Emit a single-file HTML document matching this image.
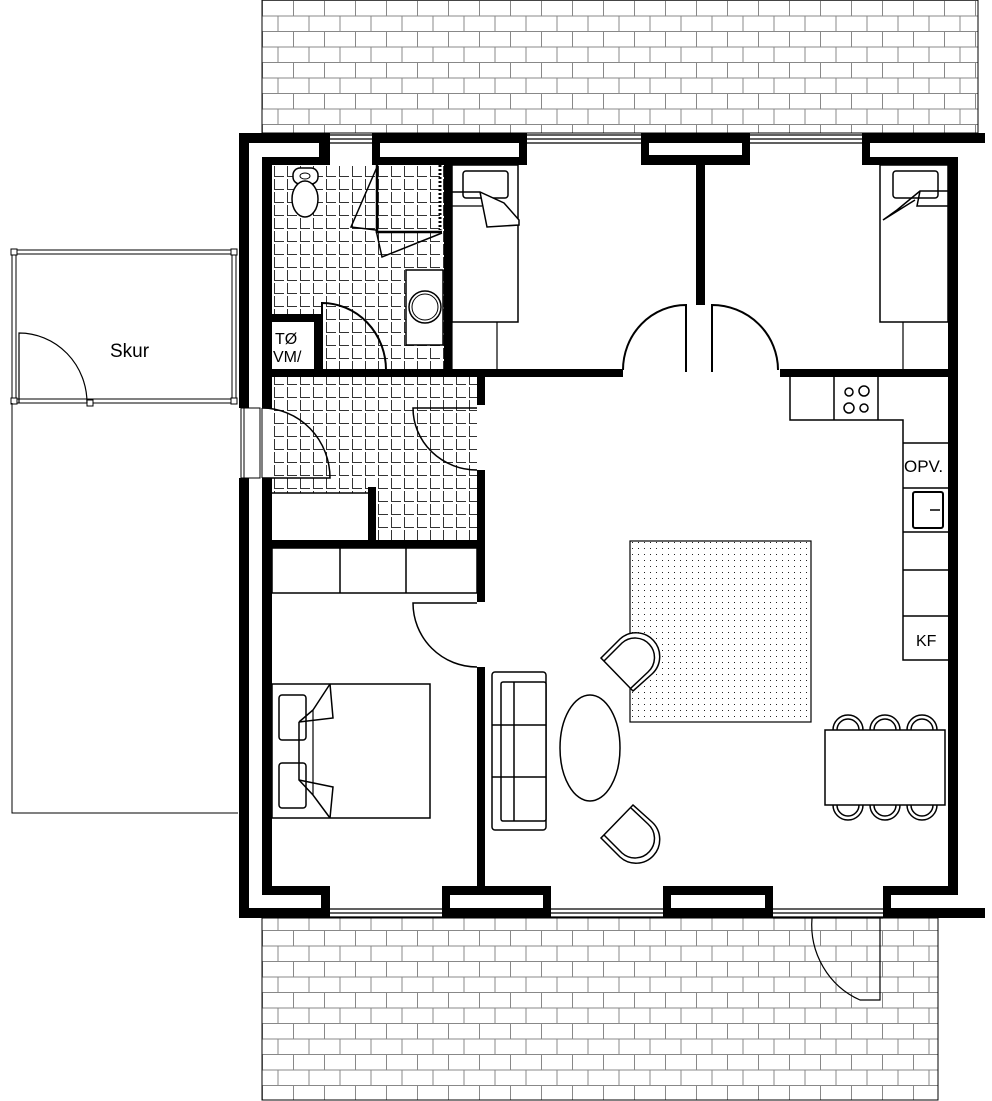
<!DOCTYPE html>
<html><head><meta charset="utf-8"><style>
html,body{margin:0;padding:0;background:#fff}
svg{display:block}
text{font-family:"Liberation Sans",sans-serif;fill:#000}
</style></head><body>
<svg width="992" height="1101" viewBox="0 0 992 1101" xmlns="http://www.w3.org/2000/svg">
<defs>
<pattern id="brick" width="62" height="31" patternUnits="userSpaceOnUse" x="262" y="0">
<path d="M0 0.5H62M0 16H62M0.5 0V16M31.5 0V16M16 16V31M47 16V31" stroke="#888" stroke-width="1" fill="none"/>
</pattern>
<pattern id="tile" width="13" height="13" patternUnits="userSpaceOnUse" x="272" y="165">
<path d="M2.5 1V11.5H12" stroke="#333" stroke-width="1" fill="none"/>
</pattern>
<pattern id="dots" width="6" height="6" patternUnits="userSpaceOnUse">
<rect x="2" y="2" width="1" height="1" fill="#222"/>
</pattern>
</defs>

<!-- terraces -->
<rect x="262" y="0" width="716" height="133" fill="url(#brick)" stroke="#000" stroke-width="1"/>
<rect x="262" y="918" width="676" height="182" fill="url(#brick)" stroke="#000" stroke-width="1"/>

<!-- shed -->
<rect x="12" y="250" width="224" height="153" fill="#fff" stroke="#000" stroke-width="1"/>
<rect x="16" y="254" width="216" height="145" fill="none" stroke="#000" stroke-width="1"/>
<rect x="11" y="249" width="6" height="6" fill="#fff" stroke="#000"/>
<rect x="231" y="249" width="6" height="6" fill="#fff" stroke="#000"/>
<rect x="11" y="398" width="6" height="6" fill="#fff" stroke="#000"/>
<rect x="231" y="398" width="6" height="6" fill="#fff" stroke="#000"/>
<rect x="87" y="400" width="6" height="6" fill="#fff" stroke="#000"/>
<path d="M19 403V333A68 70 0 0 1 87 403" fill="none" stroke="#000" stroke-width="1.2"/>
<text x="110" y="357" font-size="19">Skur</text>
<path d="M12 403V813H238" fill="none" stroke="#000" stroke-width="1"/>

<!-- floor tiles -->
<rect x="272" y="165" width="173" height="205" fill="url(#tile)"/>
<rect x="272" y="315" width="48" height="55" fill="#fff"/>
<rect x="272" y="377" width="205" height="116" fill="url(#tile)"/>
<rect x="376" y="493" width="101" height="47" fill="url(#tile)"/>

<!-- outer walls -->
<g fill="#000">
<rect x="239" y="133" width="10" height="785"/>
<rect x="262" y="157" width="10" height="738"/>
<rect x="239" y="133" width="91" height="10"/>
<rect x="262" y="157" width="68" height="8"/>
<rect x="319" y="143" width="11" height="22"/>
<rect x="372" y="133" width="155" height="10"/>
<rect x="372" y="157" width="155" height="8"/>
<rect x="372" y="143" width="8" height="14"/><rect x="519" y="143" width="8" height="14"/>
<rect x="641" y="133" width="109" height="10"/>
<rect x="641" y="155" width="109" height="10"/>
<rect x="641" y="143" width="8" height="14"/><rect x="742" y="143" width="8" height="14"/>
<rect x="862" y="133" width="123" height="10"/>
<rect x="862" y="157" width="96" height="8"/>
<rect x="862" y="143" width="8" height="14"/>
<rect x="948" y="157" width="10" height="738"/>
<rect x="239" y="908" width="91" height="10"/>
<rect x="262" y="886" width="68" height="9"/>
<rect x="321" y="886" width="9" height="22"/>
<rect x="442" y="908" width="109" height="10"/>
<rect x="442" y="886" width="109" height="9"/>
<rect x="442" y="886" width="8" height="22"/><rect x="543" y="886" width="8" height="22"/>
<rect x="663" y="908" width="110" height="10"/>
<rect x="663" y="886" width="110" height="9"/>
<rect x="663" y="886" width="8" height="22"/><rect x="765" y="886" width="8" height="22"/>
<rect x="883" y="908" width="102" height="10"/>
<rect x="883" y="886" width="75" height="9"/>
<rect x="883" y="886" width="8" height="22"/>
</g>
<!-- windows -->
<g stroke="#000" stroke-width="1.3" fill="none">
<path d="M330 135H372M330 139H372M330 143H372"/>
<path d="M527 135H641M527 139H641M527 143H641"/>
<path d="M750 135H862M750 139H862M750 143H862"/>
<path d="M330 909H442M330 913H442M330 917H442"/>
<path d="M551 909H663M551 913H663M551 917H663"/>
<path d="M773 909H883M773 913H883M773 917H883"/>
</g>

<!-- entrance -->
<rect x="239" y="408" width="33" height="70" fill="#fff"/>
<rect x="241" y="408" width="19" height="70" fill="#fff" stroke="#000" stroke-width="1"/>
<path d="M244 408V478M262 408V478" stroke="#000" stroke-width="1"/>
<path d="M262 478H330A68 70 0 0 0 262 408" fill="none" stroke="#000" stroke-width="1.5"/>

<!-- interior walls -->
<g fill="#000">
<rect x="444" y="165" width="8" height="212"/>
<rect x="262" y="369" width="361" height="8"/>
<rect x="262" y="314" width="58" height="8"/>
<rect x="314" y="314" width="8" height="56"/>
<rect x="696" y="165" width="9" height="140"/>
<rect x="780" y="369" width="178" height="8"/>
<rect x="477" y="369" width="8" height="36"/>
<rect x="477" y="470" width="8" height="132"/>
<rect x="477" y="667" width="8" height="225"/>
<rect x="368" y="487" width="8" height="55"/>
<rect x="262" y="540" width="223" height="8"/>
</g>
<path d="M272 493H370" stroke="#000" stroke-width="1.5"/>

<!-- doors -->
<path d="M686 370V305A63 65 0 0 0 623 370" fill="none" stroke="#000" stroke-width="2"/>
<path d="M712 370V305A66 65 0 0 1 778 370" fill="none" stroke="#000" stroke-width="2"/>
<path d="M686 305V372M712 305V372" stroke="#000" stroke-width="2"/>
<path d="M322 370V303A64 67 0 0 1 386 370" fill="none" stroke="#000" stroke-width="2"/>
<path d="M477 408H413A64 62 0 0 0 477 470" fill="none" stroke="#000" stroke-width="1.5"/>
<path d="M477 603H413A64 64 0 0 0 477 667" fill="none" stroke="#000" stroke-width="1.5"/>
<path d="M880 918V1000H860A80 82 0 0 1 812 918" fill="none" stroke="#000" stroke-width="1.2"/>
<path d="M773 918H883" stroke="#000" stroke-width="1.2"/>

<!-- bathroom fixtures -->
<text x="275" y="344" font-size="16">TØ</text>
<text x="273" y="362" font-size="16">VM/</text>
<rect x="293" y="168" width="25" height="16" rx="7" fill="#fff" stroke="#000" stroke-width="1.5"/>
<ellipse cx="305" cy="176" rx="5" ry="3" fill="none" stroke="#000"/>
<ellipse cx="305" cy="199" rx="13" ry="18" fill="#fff" stroke="#000" stroke-width="1.5"/>
<rect x="406" y="270" width="37" height="75" fill="#fff" stroke="#000" stroke-width="1.5"/>
<circle cx="425" cy="307" r="16" fill="none" stroke="#000" stroke-width="1.5"/>
<circle cx="425" cy="307" r="13" fill="none" stroke="#000" stroke-width="1"/>
<path d="M377 165V232H442" fill="none" stroke="#000" stroke-width="2.5"/>
<path d="M440 165V230" stroke="#000" stroke-width="3" stroke-dasharray="2 2"/>
<path d="M377 167L351 227L376 230L382 257L442 233" fill="none" stroke="#000" stroke-width="1.5"/>

<!-- bedroom1 bed -->
<rect x="452" y="165" width="66" height="157" fill="#fff" stroke="#000" stroke-width="1.5"/>
<path d="M452 322V370M497 322V370" stroke="#000" stroke-width="1.2"/>
<rect x="463" y="171" width="45" height="27" rx="3" fill="#fff" stroke="#000" stroke-width="1.5"/>
<path d="M452 192H480L504 203L519 220V225L487 227L480 192" fill="#fff" stroke="#000" stroke-width="1.5"/>
<path d="M452 206H482" stroke="#000" stroke-width="1.2"/>
<!-- bedroom2 bed -->
<rect x="880" y="165" width="68" height="157" fill="#fff" stroke="#000" stroke-width="1.5"/>
<path d="M903 322V370" stroke="#000" stroke-width="1.2"/>
<rect x="893" y="171" width="45" height="27" rx="3" fill="#fff" stroke="#000" stroke-width="1.5"/>
<path d="M948 191H920L897 210L883 220L915 200" fill="none" stroke="#000" stroke-width="1.5"/>
<path d="M920 191L917 206H948" fill="none" stroke="#000" stroke-width="1.5"/>

<!-- wardrobe -->
<rect x="272" y="548" width="205" height="45" fill="#fff" stroke="#000" stroke-width="1.5"/>
<path d="M340 548V593M406 548V593" stroke="#000" stroke-width="1.5"/>

<!-- bedroom3 bed -->
<rect x="272" y="684" width="158" height="134" fill="#fff" stroke="#000" stroke-width="1.5"/>
<rect x="279" y="695" width="27" height="45" rx="3" fill="#fff" stroke="#000" stroke-width="1.5"/>
<rect x="279" y="763" width="27" height="45" rx="3" fill="#fff" stroke="#000" stroke-width="1.5"/>
<path d="M299 722V780L313 795L330 818M299 722L313 710L330 684" fill="none" stroke="#000" stroke-width="1.5"/>
<path d="M313 710V795" stroke="#000" stroke-width="1.2"/>
<path d="M330 684L333 718L299 722M330 818L333 787L299 780" fill="none" stroke="#000" stroke-width="1.5"/>

<!-- kitchen -->
<path d="M790 377V420H903V660H948M903 443H948M903 488H948M903 532H948M903 570H948M903 616H948" fill="none" stroke="#000" stroke-width="1.5"/>
<path d="M834 377V420M878 377V420" stroke="#000" stroke-width="1.5"/>
<g fill="none" stroke="#000" stroke-width="1.5">
<circle cx="849" cy="392" r="4"/><circle cx="864" cy="391" r="5"/>
<circle cx="849" cy="408" r="5"/><circle cx="864" cy="408" r="4"/>
</g>
<text x="904" y="472" font-size="17">OPV.</text>
<rect x="913" y="492" width="30" height="36" rx="2" fill="none" stroke="#000" stroke-width="2"/>
<path d="M930 510H940" stroke="#000" stroke-width="1.5"/>
<text x="916" y="646" font-size="16">KF</text>

<!-- rug -->
<rect x="630" y="541" width="181" height="181" fill="url(#dots)" stroke="#000" stroke-width="1.2"/>

<!-- sofa -->
<g fill="#fff" stroke="#000" stroke-width="1.5">
<rect x="492" y="672" width="54" height="158" rx="3"/>
<rect x="501" y="682" width="45" height="139" rx="2"/>
</g>
<path d="M514 682V821M492 725H546M492 777H546" stroke="#000" stroke-width="1.5"/>
<ellipse cx="590" cy="748" rx="30" ry="53" fill="#fff" stroke="#000" stroke-width="1.5"/>

<!-- armchairs -->
<g fill="#fff" stroke="#000" stroke-width="1.5">
<path d="M601 658L620 639A22 22 0 0 1 652 674L633 691Z"/>
<path d="M604 661L622 643A18 18 0 0 1 648 672L631 688" fill="none"/>
<path d="M601 838L620 857A22 22 0 0 0 652 822L633 805Z"/>
<path d="M604 835L622 853A18 18 0 0 0 648 824L631 808" fill="none"/>
</g>

<!-- dining -->
<g fill="#fff" stroke="#000" stroke-width="1.5">
<path d="M833 730A15 15 0 0 1 863 730"/><path d="M837 730A11 11 0 0 1 859 730"/>
<path d="M870 730A15 15 0 0 1 900 730"/><path d="M874 730A11 11 0 0 1 896 730"/>
<path d="M907 730A15 15 0 0 1 937 730"/><path d="M911 730A11 11 0 0 1 933 730"/>
<path d="M833 805A15 15 0 0 0 863 805"/><path d="M837 805A11 11 0 0 0 859 805"/>
<path d="M870 805A15 15 0 0 0 900 805"/><path d="M874 805A11 11 0 0 0 896 805"/>
<path d="M907 805A15 15 0 0 0 937 805"/><path d="M911 805A11 11 0 0 0 933 805"/>
<rect x="825" y="730" width="120" height="75"/>
</g>
</svg>
</body></html>
